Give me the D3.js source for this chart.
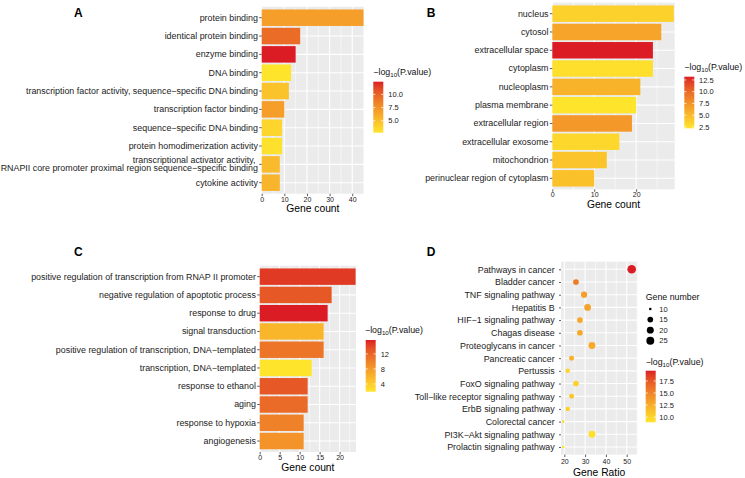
<!DOCTYPE html>
<html><head><meta charset="utf-8">
<script src="https://cdn.jsdelivr.net/npm/d3@7"></script>
<style>
body{margin:0;background:#fff}
svg{display:block;font-family:"Liberation Sans",Arial,Helvetica,sans-serif}
</style>
</head><body>
<script>
// ---------------- DATA ----------------
const mfTerms = ["protein binding","identical protein binding","enzyme binding","DNA binding",
  "transcription factor activity, sequence\u2212specific DNA binding","transcription factor binding",
  "sequence\u2212specific DNA binding","protein homodimerization activity",
  "transcriptional activator activity, \nRNAPII core promoter proximal region sequence\u2212specific binding",
  "cytokine activity"];
const mfCounts = [45,17,15,13,12,10,9,9,8,8];
const mfLogP   = [6.8,9.5,12.4,2.75,4.7,6.8,3.7,3.0,5.2,5.6];
const mfXTicks = [0,10,20,30,40];
const mfLegendTicks = [5.0,7.5,10.0];

const ccTerms = ["nucleus","cytosol","extracellular space","cytoplasm","nucleoplasm","plasma membrane",
  "extracellular region","extracellular exosome","mitochondrion","perinuclear region of cytoplasm"];
const ccCounts = [29,26,24,24,21,20,19,16,13,10];
const ccLogP   = [3.5,6.4,13.2,2.6,5.5,2.2,7.2,3.1,4.4,4.6];
const ccXTicks = [0,10,20];
const ccLegendTicks = [2.5,5.0,7.5,10.0,12.5];

const bpTerms = ["positive regulation of transcription from RNAP II promoter","negative regulation of apoptotic process",
  "response to drug","signal transduction","positive regulation of transcription, DNA\u2212templated",
  "transcription, DNA\u2212templated","response to ethanol","aging","response to hypoxia","angiogenesis"];
const bpCounts = [24,18,17,16,16,13,12,12,11,11];
const bpLogP   = [14.6,12.9,15.7,5.8,10.9,1.95,12.9,11.6,9.9,8.6];
const bpXTicks = [0,5,10,15,20];
const bpLegendTicks = [4,8,12];

const keggTerms = ["Pathways in cancer","Bladder cancer","TNF signaling pathway","Hepatitis B",
  "HIF\u22121 signaling pathway","Chagas disease","Proteoglycans in cancer","Pancreatic cancer","Pertussis",
  "FoxO signaling pathway","Toll\u2212like receptor signaling pathway","ErbB signaling pathway",
  "Colorectal cancer","PI3K\u2212Akt signaling pathway","Prolactin signaling pathway"];
const keggRatio = [52.4,25.6,29.5,31.2,27.5,27.5,33.3,23.5,21.6,25.6,23.5,21.6,19.5,33.3,19.5];
const keggCount = [29,15,17,19,15,15,20,13,12,15,13,12,10,20,10];
const keggLogP  = [19.65,15.6,13.4,13.2,12.8,12.8,12.7,12.3,10.0,10.2,10.8,10.2,9.2,9.2,8.9];
const keggXTicks = [20,30,40,50];
const keggSizeTicks = [10,15,20,25];
const keggLegendTicks = [10.0,12.5,15.0,17.5];

// ---------------- STYLE ----------------
const LOW = "#FEE52C", HIGH = "#DC1C24";
const PANEL_BG = "#EBEBEB";
const TXT = "#222222";

const svg = d3.select("body").append("svg").attr("width",745).attr("height",478);
const defs = svg.append("defs");

function colorScale(vals){
  return d3.scaleLinear().domain(d3.extent(vals)).range([LOW,HIGH]).interpolate(d3.interpolateLab);
}

function minorTicks(major, lo, hi){
  const step = major[1]-major[0];
  const out = [];
  for(let v = major[0]-step/2; v < hi; v += step){ if(v > lo) out.push(v); }
  return out;
}

function legendTitle(x, yc){
  const t = svg.append("text").attr("x",x).attr("y",yc).attr("dy","0.35em")
    .attr("font-size",8.8).attr("fill","#111");
  t.append("tspan").text("\u2212log");
  t.append("tspan").text("10").attr("font-size",6.2).attr("dy",2);
  t.append("tspan").text("(P.value)").attr("dy",-2);
}

function colorLegend(id, vals, ticks, fmt, o){
  const c = colorScale(vals);
  const ext = d3.extent(vals);
  const grad = defs.append("linearGradient").attr("id",id).attr("x1",0).attr("y1",1).attr("x2",0).attr("y2",0);
  d3.range(0,1.0001,0.05).forEach(t=>{
    grad.append("stop").attr("offset",t).attr("stop-color",c(ext[0]+t*(ext[1]-ext[0])));
  });
  legendTitle(o.titleX ?? o.x, o.titleY);
  svg.append("rect").attr("x",o.x).attr("y",o.top).attr("width",o.w).attr("height",o.bottom-o.top)
    .attr("fill",`url(#${id})`);
  const ly = d3.scaleLinear().domain(ext).range([o.bottom,o.top]);
  ticks.forEach(v=>{
    const yy = ly(v);
    svg.append("line").attr("x1",o.x).attr("x2",o.x+2).attr("y1",yy).attr("y2",yy).attr("stroke","#fff").attr("stroke-width",0.8);
    svg.append("line").attr("x1",o.x+o.w-2).attr("x2",o.x+o.w).attr("y1",yy).attr("y2",yy).attr("stroke","#fff").attr("stroke-width",0.8);
    svg.append("text").attr("x",o.labelX).attr("y",yy).attr("dy","0.35em").attr("font-size",7.5)
      .attr("fill",TXT).text(fmt(v));
  });
}

function styleAxis(g, fs){
  g.select(".domain").remove();
  g.selectAll(".tick line").attr("stroke","#333").attr("stroke-width",0.8);
  g.selectAll(".tick text").attr("font-size",fs).attr("fill",TXT)
    .attr("font-family","'Liberation Sans',Arial,Helvetica,sans-serif");
  g.attr("font-family",null).attr("font-size",null);
}

function letter(txt,x,y){
  svg.append("text").attr("x",x).attr("y",y).attr("font-size",12).attr("font-weight","bold")
    .attr("fill","#000").text(txt);
}

function axisTitle(txt, x, y){
  svg.append("text").attr("x",x).attr("y",y).attr("dy","0.35em").attr("text-anchor","middle")
    .attr("font-size",10.3).attr("fill","#000").text(txt);
}

function barPanel(o){
  const {terms, counts, logp, xTicks} = o;
  const x = d3.scaleLinear().domain([0, d3.max(counts)+o.pad]).range([o.L,o.R]);
  const y = d3.scaleBand().domain(terms).range([o.T,o.B]).paddingInner(0.1).paddingOuter(0.15);
  const c = colorScale(logp);
  svg.append("rect").attr("x",o.L).attr("y",o.T).attr("width",o.R-o.L).attr("height",o.B-o.T).attr("fill",PANEL_BG);
  const grid = svg.append("g").attr("stroke","#fff");
  minorTicks(xTicks, 0, x.domain()[1]).forEach(v=>{
    grid.append("line").attr("x1",x(v)).attr("x2",x(v)).attr("y1",o.T).attr("y2",o.B).attr("stroke-width",0.55);
  });
  xTicks.forEach(v=>{
    grid.append("line").attr("x1",x(v)).attr("x2",x(v)).attr("y1",o.T).attr("y2",o.B).attr("stroke-width",1.1);
  });
  terms.forEach(t=>{
    const yy = y(t)+y.bandwidth()/2;
    grid.append("line").attr("x1",o.L).attr("x2",o.R).attr("y1",yy).attr("y2",yy).attr("stroke-width",1.1);
  });
  svg.append("g").selectAll("rect").data(terms).join("rect")
    .attr("x",x(0)).attr("y",d=>y(d)).attr("height",y.bandwidth())
    .attr("width",(d,i)=>x(counts[i])-x(0)).attr("fill",(d,i)=>c(logp[i]));
  const ya = svg.append("g").attr("transform",`translate(${o.L},0)`)
    .call(d3.axisLeft(y).tickSize(2.5).tickPadding(1.3));
  styleAxis(ya, 8.9);
  ya.selectAll(".tick text").each(function(d){
    const lines = d.split("\n");
    if(lines.length>1){
      const sel = d3.select(this).text(null).attr("dy",null);
      lines.forEach((ln,i)=>{
        sel.append("tspan").attr("x",sel.attr("x")).attr("dy", i===0 ? "-0.2em" : "1.0em").text(ln);
      });
    }
  });
  const xa = svg.append("g").attr("transform",`translate(0,${o.B})`)
    .call(d3.axisBottom(x).tickValues(xTicks).tickSize(2.5).tickPadding(0.6));
  styleAxis(xa, 7);
  axisTitle("Gene count", (o.L+o.R)/2, o.titleY);
}

// ---------------- PANEL A ----------------
letter("A",74,17);
barPanel({terms:mfTerms, counts:mfCounts, logp:mfLogP, xTicks:mfXTicks, pad:0.2,
  L:261.7, R:364, T:6.7, B:193.7, titleY:208.5});
colorLegend("gA", mfLogP, mfLegendTicks, d3.format(".1f"),
  {x:373.3, titleY:71.7, top:81.7, bottom:132.7, w:10, labelX:388.3});

// ---------------- PANEL B ----------------
letter("B",426.7,17);
barPanel({terms:ccTerms, counts:ccCounts, logp:ccLogP, xTicks:ccXTicks, pad:0.2,
  L:552.3, R:674.7, T:2.7, B:189.3, titleY:204});
colorLegend("gB", ccLogP, ccLegendTicks, d3.format(".1f"),
  {x:684.3, titleY:66.7, top:76.7, bottom:128.3, w:10, labelX:699});

// ---------------- PANEL C ----------------
letter("C",74,256);
barPanel({terms:bpTerms, counts:bpCounts, logp:bpLogP, xTicks:bpXTicks, pad:0.1,
  L:259.7, R:356, T:265.7, B:452, titleY:467.3});
colorLegend("gC", bpLogP, bpLegendTicks, d3.format("d"),
  {x:365.7, titleX:365, titleY:330, top:340, bottom:391.7, w:10, labelX:380.7});

// ---------------- PANEL D ----------------
letter("D",426.7,256);
(function(){
  const L=561, R=637.3, T=261.7, B=454.6;
  const x = d3.scaleLinear().domain([18.4,55.1]).range([L,R]);
  const y = d3.scalePoint().domain(keggTerms).range([T,B]).padding(0.6);
  const c = colorScale(keggLogP);
  const cExt = d3.extent(keggCount);
  const sq = d3.scaleSqrt().domain([0, cExt[1]-cExt[0]]).range([0,3.0]);
  const r = v => 1.3 + sq(Math.max(0, v-cExt[0]));
  svg.append("rect").attr("x",L).attr("y",T).attr("width",R-L).attr("height",B-T).attr("fill",PANEL_BG);
  const grid = svg.append("g").attr("stroke","#fff");
  minorTicks(keggXTicks, x.domain()[0], x.domain()[1]).forEach(v=>{
    grid.append("line").attr("x1",x(v)).attr("x2",x(v)).attr("y1",T).attr("y2",B).attr("stroke-width",0.55);
  });
  keggXTicks.forEach(v=>{
    grid.append("line").attr("x1",x(v)).attr("x2",x(v)).attr("y1",T).attr("y2",B).attr("stroke-width",1.1);
  });
  keggTerms.forEach(t=>{
    grid.append("line").attr("x1",L).attr("x2",R).attr("y1",y(t)).attr("y2",y(t)).attr("stroke-width",1.1);
  });
  svg.append("g").selectAll("circle").data(keggTerms).join("circle")
    .attr("cx",(d,i)=>x(keggRatio[i])).attr("cy",d=>y(d)).attr("r",(d,i)=>r(keggCount[i]))
    .attr("fill",(d,i)=>c(keggLogP[i]));
  const ya = svg.append("g").attr("transform",`translate(${L},0)`)
    .call(d3.axisLeft(y).tickSize(2).tickPadding(4.3));
  styleAxis(ya, 8.9);
  const xa = svg.append("g").attr("transform",`translate(0,${B})`)
    .call(d3.axisBottom(x).tickValues(keggXTicks).tickSize(2.5).tickPadding(1.5));
  styleAxis(xa, 7);
  axisTitle("Gene Ratio", (L+R)/2, 472.3);

  // size legend
  svg.append("text").attr("x",645.7).attr("y",297.3).attr("dy","0.35em").attr("font-size",8.8)
    .attr("fill","#111").text("Gene number");
  const sy = d3.scalePoint().domain(keggSizeTicks).range([309,340.7]);
  keggSizeTicks.forEach(v=>{
    svg.append("circle").attr("cx",650.3).attr("cy",sy(v)).attr("r",r(v)).attr("fill","#000");
    svg.append("text").attr("x",659.3).attr("y",sy(v)).attr("dy","0.35em").attr("font-size",7.5)
      .attr("fill",TXT).text(v);
  });
  colorLegend("gD", keggLogP, keggLegendTicks, d3.format(".1f"),
    {x:645.7, titleY:361.7, top:370.7, bottom:422.3, w:10, labelX:659.3});
})();
</script>
</body></html>
